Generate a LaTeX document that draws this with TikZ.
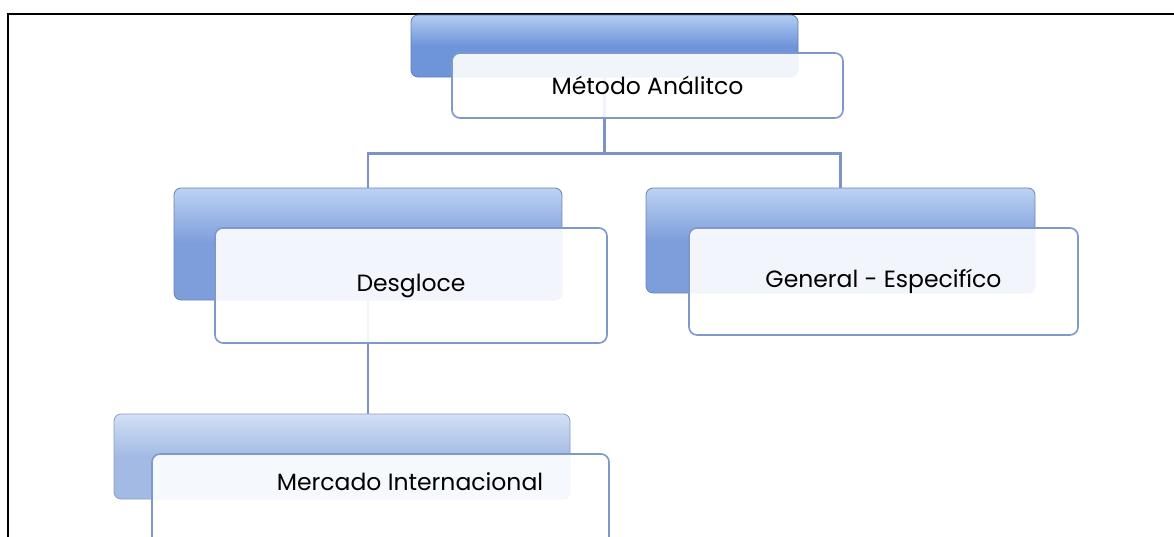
\documentclass[tikz,border=0pt]{standalone}
\usepackage{fontspec}
\setmainfont{Poppins}
\usetikzlibrary{calc}
\definecolor{conncol}{HTML}{7C93C8}
\definecolor{frontborder}{HTML}{7F98CC}
\tikzset{
  backbox/.style={draw=#1!85!black, line width=0.8pt, rounded corners=7pt, anchor=center, inner sep=0pt},
  frontbox/.style={draw=frontborder, line width=1.6pt, rounded corners=8pt, fill=white, fill opacity=0.9, text opacity=1, anchor=center, inner sep=0pt, font=\fontsize{23.5}{28}\selectfont},
  lbl/.style={font=\fontsize{23.5}{28}\selectfont, inner sep=0pt},
  conn/.style={draw=conncol, line width=2.4pt},
  frame/.style={draw=black, line width=2.2pt}
}
\definecolor{bA}{HTML}{6E94D9}
\definecolor{bAt}{HTML}{B2CCF2}
\definecolor{bB}{HTML}{7D9DDB}
\definecolor{bBt}{HTML}{BCD2F2}
\definecolor{bC}{HTML}{A3BAE4}
\definecolor{bCt}{HTML}{D3E0F5}
\begin{document}
\begin{tikzpicture}[x=1pt,y=-1pt]
\useasboundingbox (0,0) rectangle (1174,536);
\clip (0,0) rectangle (1174,536);
\draw[frame] (8,540) -- (8,14) -- (1180,14);
% back boxes
\node[backbox=bA, top color=bAt, bottom color=bA, middle color=bA, minimum width=387pt, minimum height=62pt] (topb) at (604.5,46) {};
\node[backbox=bB, top color=bBt, bottom color=bB, middle color=bB, minimum width=388pt, minimum height=112pt] (desb) at (368,244) {};
\node[backbox=bB, top color=bBt, bottom color=bB, middle color=bB, minimum width=389pt, minimum height=105pt] (genb) at (840.5,240.5) {};
\node[backbox=bC, top color=bCt, bottom color=bC, middle color=bC, minimum width=456pt, minimum height=85pt] (mib) at (342,456.5) {};
% connectors
\draw[conn] (topb.south) -- ++(0,76) -| (desb.north);
\draw[conn] (topb.south) -- ++(0,76) -| (genb.north);
\draw[conn] (desb.south) -- (desb.south |- mib.north);
% front boxes
\node[frontbox, minimum width=391pt, minimum height=65pt] (topf) at (647.5,85.5) {Método Análitco};
\node[frontbox, minimum width=392pt, minimum height=115pt] (desf) at (411,285.5) {Desgloce};
\node[frontbox, minimum width=389pt, minimum height=107pt] (genf) at (883.5,281.5) {General - Especifíco};
\node[frontbox, minimum width=457pt, minimum height=126pt] (mif) at (380.5,517) {};
\node[lbl] (mit) at (410,482) {Mercado Internacional};
\end{tikzpicture}
\end{document}
